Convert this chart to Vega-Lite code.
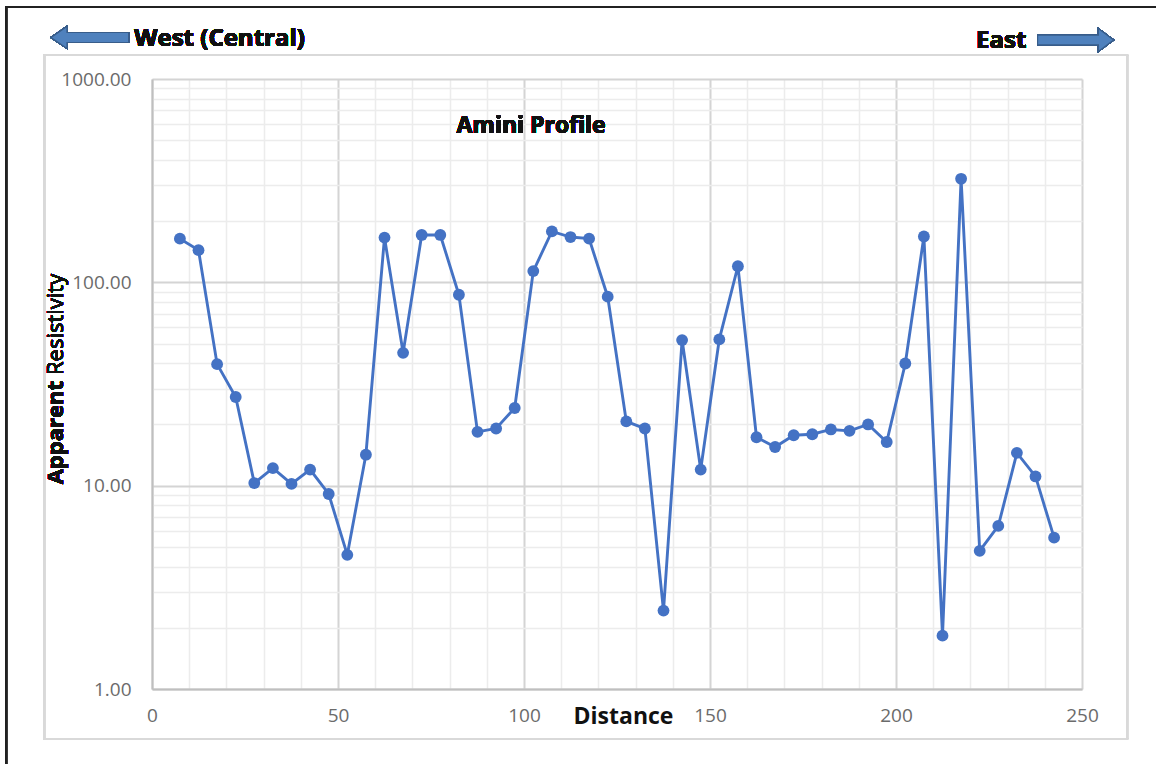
{
  "$schema": "https://vega.github.io/schema/vega-lite/v6.json",
  "autosize": "none",
  "width": 930,
  "height": 610,
  "padding": {"left": 152, "top": 79, "right": 74, "bottom": 75},
  "background": "white",
  "config": {"view": {"stroke": null}, "font": "Open Sans"},
  "data": {"values": [
    {"d": 7.5, "r": 164}, {"d": 12.5, "r": 144}, {"d": 17.5, "r": 39.6}, {"d": 22.5, "r": 27.3},
    {"d": 27.5, "r": 10.3}, {"d": 32.5, "r": 12.2}, {"d": 37.5, "r": 10.2}, {"d": 42.5, "r": 12.0},
    {"d": 47.5, "r": 9.1}, {"d": 52.5, "r": 4.57}, {"d": 57.5, "r": 14.2}, {"d": 62.5, "r": 166},
    {"d": 67.5, "r": 45}, {"d": 72.5, "r": 171}, {"d": 77.5, "r": 171}, {"d": 82.5, "r": 86.9},
    {"d": 87.5, "r": 18.4}, {"d": 92.5, "r": 19.1}, {"d": 97.5, "r": 24.1}, {"d": 102.5, "r": 113.6},
    {"d": 107.5, "r": 178}, {"d": 112.5, "r": 167}, {"d": 117.5, "r": 164}, {"d": 122.5, "r": 85},
    {"d": 127.5, "r": 20.7}, {"d": 132.5, "r": 19.1}, {"d": 137.5, "r": 2.43}, {"d": 142.5, "r": 52},
    {"d": 147.5, "r": 12.0}, {"d": 152.5, "r": 52.4}, {"d": 157.5, "r": 120}, {"d": 162.5, "r": 17.3},
    {"d": 167.5, "r": 15.5}, {"d": 172.5, "r": 17.7}, {"d": 177.5, "r": 17.9}, {"d": 182.5, "r": 18.9},
    {"d": 187.5, "r": 18.6}, {"d": 192.5, "r": 20.0}, {"d": 197.5, "r": 16.4}, {"d": 202.5, "r": 39.9},
    {"d": 207.5, "r": 168}, {"d": 212.5, "r": 1.83}, {"d": 217.5, "r": 323}, {"d": 222.5, "r": 4.78},
    {"d": 227.5, "r": 6.34}, {"d": 232.5, "r": 14.5}, {"d": 237.5, "r": 11.1}, {"d": 242.5, "r": 5.55}
  ]},
  "layer": [
    {
      "mark": {"type": "line", "color": "#4472C4", "strokeWidth": 2.9},
      "encoding": {
        "x": {
          "field": "d", "type": "quantitative",
          "scale": {"domain": [0, 250], "nice": false, "zero": false},
          "axis": {
            "grid": true,
            "values": [0,10,20,30,40,50,60,70,80,90,100,110,120,130,140,150,160,170,180,190,200,210,220,230,240,250],
            "labelExpr": "datum.value % 50 === 0 ? datum.label : ''",
            "labelOverlap": false,
            "labelFont": "Open Sans", "labelFontSize": 19, "labelColor": "#6b6b6b",
            "labelPadding": 17, "labelFlush": false,
            "ticks": false,
            "domainColor": "#bfbfbf", "domainWidth": 2,
            "gridColor": {"condition": {"test": "datum.value % 50 === 0", "value": "#d4d4d4"}, "value": "#ececec"},
            "gridWidth": {"condition": {"test": "datum.value % 50 === 0", "value": 2}, "value": 1.5},
            "title": "Distance",
            "titleFont": "Open Sans", "titleFontSize": 23, "titleFontWeight": "bold", "titleColor": "#111111",
            "titleX": 471, "titleY": 34, "titleAlign": "center", "titleBaseline": "alphabetic"
          }
        },
        "y": {
          "field": "r", "type": "quantitative",
          "scale": {"type": "log", "domain": [1, 1000], "nice": false},
          "axis": {
            "grid": true,
            "values": [1,2,3,4,5,6,7,8,9,10,20,30,40,50,60,70,80,90,100,200,300,400,500,600,700,800,900,1000],
            "labelExpr": "indexof([1,10,100,1000], datum.value) >= 0 ? format(datum.value, '.2f') : ''",
            "labelOverlap": false,
            "labelFont": "Open Sans", "labelFontSize": 19, "labelColor": "#6b6b6b",
            "labelPadding": 21, "labelFlush": false, "labelBaseline": "middle",
            "ticks": false,
            "domainColor": "#bfbfbf", "domainWidth": 2,
            "gridColor": {"condition": {"test": "indexof([1,10,100,1000], datum.value) >= 0", "value": "#d4d4d4"}, "value": "#ececec"},
            "gridWidth": {"condition": {"test": "indexof([1,10,100,1000], datum.value) >= 0", "value": 2}, "value": 1.5},
            "title": null
          }
        }
      }
    },
    {
      "mark": {"type": "point", "filled": true, "color": "#4472C4", "size": 140, "opacity": 1},
      "encoding": {
        "x": {"field": "d", "type": "quantitative",
          "axis": {
            "grid": true,
            "values": [0,10,20,30,40,50,60,70,80,90,100,110,120,130,140,150,160,170,180,190,200,210,220,230,240,250],
            "labelExpr": "datum.value % 50 === 0 ? datum.label : ''",
            "labelOverlap": false,
            "labelFont": "Open Sans", "labelFontSize": 19, "labelColor": "#6b6b6b",
            "labelPadding": 17, "labelFlush": false,
            "ticks": false,
            "domainColor": "#bfbfbf", "domainWidth": 2,
            "gridColor": {"condition": {"test": "datum.value % 50 === 0", "value": "#d4d4d4"}, "value": "#ececec"},
            "gridWidth": {"condition": {"test": "datum.value % 50 === 0", "value": 2}, "value": 1.5},
            "title": "Distance",
            "titleFont": "Open Sans", "titleFontSize": 23, "titleFontWeight": "bold", "titleColor": "#111111",
            "titleX": 471, "titleY": 34, "titleAlign": "center", "titleBaseline": "alphabetic"
          }},
        "y": {"field": "r", "type": "quantitative"}
      }
    },
    {
      "mark": {"type": "rect", "filled": false, "stroke": "#d9d9d9", "strokeWidth": 1.5, "clip": false},
      "encoding": {
        "x": {"datum": -28.95, "type": "quantitative",
          "axis": {
            "grid": true,
            "values": [0,10,20,30,40,50,60,70,80,90,100,110,120,130,140,150,160,170,180,190,200,210,220,230,240,250],
            "labelExpr": "datum.value % 50 === 0 ? datum.label : ''",
            "labelOverlap": false,
            "labelFont": "Open Sans", "labelFontSize": 19, "labelColor": "#6b6b6b",
            "labelPadding": 17, "labelFlush": false,
            "ticks": false,
            "domainColor": "#bfbfbf", "domainWidth": 2,
            "gridColor": {"condition": {"test": "datum.value % 50 === 0", "value": "#d4d4d4"}, "value": "#ececec"},
            "gridWidth": {"condition": {"test": "datum.value % 50 === 0", "value": 2}, "value": 1.5},
            "title": "Distance",
            "titleFont": "Open Sans", "titleFontSize": 23, "titleFontWeight": "bold", "titleColor": "#111111",
            "titleX": 471, "titleY": 34, "titleAlign": "center", "titleBaseline": "alphabetic"
          }},
        "x2": {"datum": 262.18},
        "y": {"datum": 1312, "type": "quantitative"},
        "y2": {"datum": 0.5675}
      }
    },
    {
      "mark": {"type": "rect", "filled": false, "stroke": "#222222", "strokeWidth": 1.5, "clip": false},
      "encoding": {
        "x": {"datum": -39.17, "type": "quantitative",
          "axis": {
            "grid": true,
            "values": [0,10,20,30,40,50,60,70,80,90,100,110,120,130,140,150,160,170,180,190,200,210,220,230,240,250],
            "labelExpr": "datum.value % 50 === 0 ? datum.label : ''",
            "labelOverlap": false,
            "labelFont": "Open Sans", "labelFontSize": 19, "labelColor": "#6b6b6b",
            "labelPadding": 17, "labelFlush": false,
            "ticks": false,
            "domainColor": "#bfbfbf", "domainWidth": 2,
            "gridColor": {"condition": {"test": "datum.value % 50 === 0", "value": "#d4d4d4"}, "value": "#ececec"},
            "gridWidth": {"condition": {"test": "datum.value % 50 === 0", "value": 2}, "value": 1.5},
            "title": "Distance",
            "titleFont": "Open Sans", "titleFontSize": 23, "titleFontWeight": "bold", "titleColor": "#111111",
            "titleX": 471, "titleY": 34, "titleAlign": "center", "titleBaseline": "alphabetic"
          }},
        "x2": {"datum": 273.7},
        "y": {"datum": 2259, "type": "quantitative"},
        "y2": {"datum": 0.357}
      }
    },
    {
      "mark": {"type": "text", "text": "Amini Profile", "font": "Open Sans", "fontSize": 23, "fontWeight": "bold", "color": "#111111", "align": "center", "baseline": "alphabetic"},
      "encoding": {
        "x": {"datum": 101.9, "type": "quantitative",
          "axis": {
            "grid": true,
            "values": [0,10,20,30,40,50,60,70,80,90,100,110,120,130,140,150,160,170,180,190,200,210,220,230,240,250],
            "labelExpr": "datum.value % 50 === 0 ? datum.label : ''",
            "labelOverlap": false,
            "labelFont": "Open Sans", "labelFontSize": 19, "labelColor": "#6b6b6b",
            "labelPadding": 17, "labelFlush": false,
            "ticks": false,
            "domainColor": "#bfbfbf", "domainWidth": 2,
            "gridColor": {"condition": {"test": "datum.value % 50 === 0", "value": "#d4d4d4"}, "value": "#ececec"},
            "gridWidth": {"condition": {"test": "datum.value % 50 === 0", "value": 2}, "value": 1.5},
            "title": "Distance",
            "titleFont": "Open Sans", "titleFontSize": 23, "titleFontWeight": "bold", "titleColor": "#111111",
            "titleX": 471, "titleY": 34, "titleAlign": "center", "titleBaseline": "alphabetic"
          }},
        "y": {"datum": 541, "type": "quantitative"}
      }
    },
    {
      "mark": {"type": "text", "text": "West (Central)", "font": "Open Sans", "fontSize": 24, "fontWeight": "bold", "color": "#111111", "align": "left", "baseline": "alphabetic", "clip": false},
      "encoding": {
        "x": {"datum": -4.76, "type": "quantitative",
          "axis": {
            "grid": true,
            "values": [0,10,20,30,40,50,60,70,80,90,100,110,120,130,140,150,160,170,180,190,200,210,220,230,240,250],
            "labelExpr": "datum.value % 50 === 0 ? datum.label : ''",
            "labelOverlap": false,
            "labelFont": "Open Sans", "labelFontSize": 19, "labelColor": "#6b6b6b",
            "labelPadding": 17, "labelFlush": false,
            "ticks": false,
            "domainColor": "#bfbfbf", "domainWidth": 2,
            "gridColor": {"condition": {"test": "datum.value % 50 === 0", "value": "#d4d4d4"}, "value": "#ececec"},
            "gridWidth": {"condition": {"test": "datum.value % 50 === 0", "value": 2}, "value": 1.5},
            "title": "Distance",
            "titleFont": "Open Sans", "titleFontSize": 23, "titleFontWeight": "bold", "titleColor": "#111111",
            "titleX": 471, "titleY": 34, "titleAlign": "center", "titleBaseline": "alphabetic"
          }},
        "y": {"datum": 1445, "type": "quantitative"}
      }
    },
    {
      "mark": {"type": "text", "text": "East", "font": "Open Sans", "fontSize": 24, "fontWeight": "bold", "color": "#111111", "align": "right", "baseline": "alphabetic", "clip": false},
      "encoding": {
        "x": {"datum": 235.03, "type": "quantitative",
          "axis": {
            "grid": true,
            "values": [0,10,20,30,40,50,60,70,80,90,100,110,120,130,140,150,160,170,180,190,200,210,220,230,240,250],
            "labelExpr": "datum.value % 50 === 0 ? datum.label : ''",
            "labelOverlap": false,
            "labelFont": "Open Sans", "labelFontSize": 19, "labelColor": "#6b6b6b",
            "labelPadding": 17, "labelFlush": false,
            "ticks": false,
            "domainColor": "#bfbfbf", "domainWidth": 2,
            "gridColor": {"condition": {"test": "datum.value % 50 === 0", "value": "#d4d4d4"}, "value": "#ececec"},
            "gridWidth": {"condition": {"test": "datum.value % 50 === 0", "value": 2}, "value": 1.5},
            "title": "Distance",
            "titleFont": "Open Sans", "titleFontSize": 23, "titleFontWeight": "bold", "titleColor": "#111111",
            "titleX": 471, "titleY": 34, "titleAlign": "center", "titleBaseline": "alphabetic"
          }},
        "y": {"datum": 1416, "type": "quantitative"}
      }
    },
    {
      "mark": {"type": "text", "text": "Apparent", "font": "Open Sans", "fontSize": 22, "fontWeight": "bold", "color": "#111111", "align": "right", "baseline": "alphabetic", "angle": 270, "clip": false},
      "encoding": {
        "x": {"datum": -23.84, "type": "quantitative",
          "axis": {
            "grid": true,
            "values": [0,10,20,30,40,50,60,70,80,90,100,110,120,130,140,150,160,170,180,190,200,210,220,230,240,250],
            "labelExpr": "datum.value % 50 === 0 ? datum.label : ''",
            "labelOverlap": false,
            "labelFont": "Open Sans", "labelFontSize": 19, "labelColor": "#6b6b6b",
            "labelPadding": 17, "labelFlush": false,
            "ticks": false,
            "domainColor": "#bfbfbf", "domainWidth": 2,
            "gridColor": {"condition": {"test": "datum.value % 50 === 0", "value": "#d4d4d4"}, "value": "#ececec"},
            "gridWidth": {"condition": {"test": "datum.value % 50 === 0", "value": 2}, "value": 1.5},
            "title": "Distance",
            "titleFont": "Open Sans", "titleFontSize": 23, "titleFontWeight": "bold", "titleColor": "#111111",
            "titleX": 471, "titleY": 34, "titleAlign": "center", "titleBaseline": "alphabetic"
          }},
        "y": {"datum": 32.7, "type": "quantitative"}
      }
    },
    {
      "mark": {"type": "text", "text": "Resistivity", "font": "Open Sans", "fontSize": 22, "fontWeight": "normal", "color": "#111111", "align": "left", "baseline": "alphabetic", "angle": 270, "clip": false},
      "encoding": {
        "x": {"datum": -23.84, "type": "quantitative",
          "axis": {
            "grid": true,
            "values": [0,10,20,30,40,50,60,70,80,90,100,110,120,130,140,150,160,170,180,190,200,210,220,230,240,250],
            "labelExpr": "datum.value % 50 === 0 ? datum.label : ''",
            "labelOverlap": false,
            "labelFont": "Open Sans", "labelFontSize": 19, "labelColor": "#6b6b6b",
            "labelPadding": 17, "labelFlush": false,
            "ticks": false,
            "domainColor": "#bfbfbf", "domainWidth": 2,
            "gridColor": {"condition": {"test": "datum.value % 50 === 0", "value": "#d4d4d4"}, "value": "#ececec"},
            "gridWidth": {"condition": {"test": "datum.value % 50 === 0", "value": 2}, "value": 1.5},
            "title": "Distance",
            "titleFont": "Open Sans", "titleFontSize": 23, "titleFontWeight": "bold", "titleColor": "#111111",
            "titleX": 471, "titleY": 34, "titleAlign": "center", "titleBaseline": "alphabetic"
          }},
        "y": {"datum": 35.0, "type": "quantitative"}
      }
    },
    {
      "mark": {"type": "point", "filled": true, "fill": "#4F81BD", "stroke": "#385D8A", "strokeWidth": 1.2, "opacity": 1, "fillOpacity": 1, "size": 6022,
        "shape": "M-1,0 L-0.588,-0.283 L-0.588,-0.129 L1,-0.129 L1,0.129 L-0.588,0.129 L-0.588,0.283 Z", "clip": false},
      "encoding": {
        "x": {"datum": -16.72, "type": "quantitative",
          "axis": {
            "grid": true,
            "values": [0,10,20,30,40,50,60,70,80,90,100,110,120,130,140,150,160,170,180,190,200,210,220,230,240,250],
            "labelExpr": "datum.value % 50 === 0 ? datum.label : ''",
            "labelOverlap": false,
            "labelFont": "Open Sans", "labelFontSize": 19, "labelColor": "#6b6b6b",
            "labelPadding": 17, "labelFlush": false,
            "ticks": false,
            "domainColor": "#bfbfbf", "domainWidth": 2,
            "gridColor": {"condition": {"test": "datum.value % 50 === 0", "value": "#d4d4d4"}, "value": "#ececec"},
            "gridWidth": {"condition": {"test": "datum.value % 50 === 0", "value": 2}, "value": 1.5},
            "title": "Distance",
            "titleFont": "Open Sans", "titleFontSize": 23, "titleFontWeight": "bold", "titleColor": "#111111",
            "titleX": 471, "titleY": 34, "titleAlign": "center", "titleBaseline": "alphabetic"
          }},
        "y": {"datum": 1600, "type": "quantitative"}
      }
    },
    {
      "mark": {"type": "point", "filled": true, "fill": "#4F81BD", "stroke": "#385D8A", "strokeWidth": 1.2, "opacity": 1, "fillOpacity": 1, "size": 5776,
        "shape": "M1,0 L0.6,-0.3 L0.6,-0.129 L-1,-0.129 L-1,0.129 L0.6,0.129 L0.6,0.3 Z", "clip": false},
      "encoding": {
        "x": {"datum": 248.28, "type": "quantitative",
          "axis": {
            "grid": true,
            "values": [0,10,20,30,40,50,60,70,80,90,100,110,120,130,140,150,160,170,180,190,200,210,220,230,240,250],
            "labelExpr": "datum.value % 50 === 0 ? datum.label : ''",
            "labelOverlap": false,
            "labelFont": "Open Sans", "labelFontSize": 19, "labelColor": "#6b6b6b",
            "labelPadding": 17, "labelFlush": false,
            "ticks": false,
            "domainColor": "#bfbfbf", "domainWidth": 2,
            "gridColor": {"condition": {"test": "datum.value % 50 === 0", "value": "#d4d4d4"}, "value": "#ececec"},
            "gridWidth": {"condition": {"test": "datum.value % 50 === 0", "value": 2}, "value": 1.5},
            "title": "Distance",
            "titleFont": "Open Sans", "titleFontSize": 23, "titleFontWeight": "bold", "titleColor": "#111111",
            "titleX": 471, "titleY": 34, "titleAlign": "center", "titleBaseline": "alphabetic"
          }},
        "y": {"datum": 1555, "type": "quantitative"}
      }
    }
  ]
}
